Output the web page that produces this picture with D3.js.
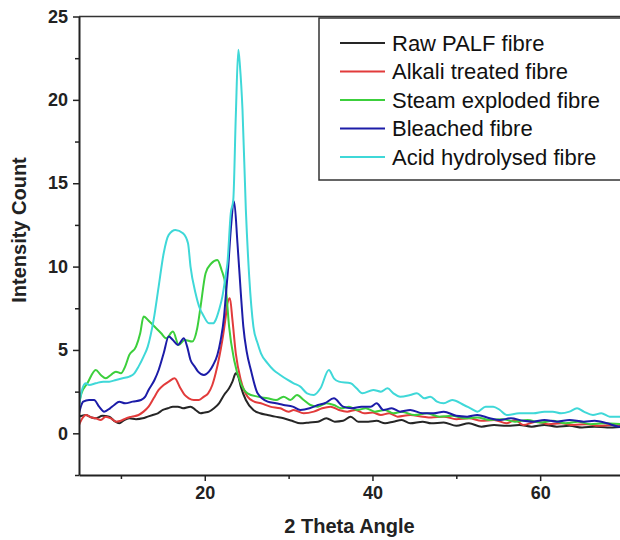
<!DOCTYPE html>
<html>
<head>
<meta charset="utf-8">
<script src="https://cdn.jsdelivr.net/npm/d3@7"></script>
<style>
  body { margin: 0; background: #fff; }
  svg { display: block; font-family: "Liberation Sans", Arial, sans-serif; }
</style>
</head>
<body>
<div id="chart"></div>
<script>
// 2 theta / intensity pairs
const rawPALF = [[5,1.0],[5.8,1.1],[6.5,0.95],[7,0.9],[7.8,1.05],[8.6,1.0],[9.2,0.75],[9.8,0.6],[10.4,0.8],[11,0.9],[11.8,0.85],[12.6,0.9],[13.2,1.0],[13.8,1.1],[14.4,1.2],[15,1.4],[15.6,1.5],[16.2,1.6],[16.8,1.6],[17.4,1.5],[18.3,1.6],[18.9,1.4],[19.5,1.2],[20,1.25],[20.5,1.3],[21.1,1.5],[21.7,1.8],[22.3,2.3],[22.9,2.7],[23.3,3.1],[23.7,3.6],[24.0,3.4],[24.3,2.8],[24.9,2.0],[25.8,1.4],[26.6,1.2],[27.5,1.1],[28.4,1.0],[29.4,0.9],[30.4,0.75],[31.4,0.6],[32.5,0.65],[33.5,0.7],[34.5,0.9],[35.5,0.7],[36.5,0.75],[37.4,1.0],[38.3,0.7],[39.5,0.7],[40.5,0.75],[41.5,0.6],[42.5,0.7],[43.5,0.8],[44.5,0.6],[46,0.7],[47,0.6],[48.5,0.65],[50,0.45],[51.5,0.6],[53,0.4],[54.5,0.5],[56,0.45],[57.5,0.5],[59,0.4],[60.5,0.5],[62,0.4],[63.5,0.45],[65,0.35],[66.5,0.4],[68,0.35],[70,0.4]];

const alkali = [[5,0.5],[5.4,0.9],[5.8,1.1],[6.5,0.95],[7,0.9],[7.6,0.8],[8.2,1.0],[8.8,0.9],[9.4,0.7],[10,0.75],[10.6,0.9],[11.3,1.0],[12.1,1.1],[12.7,1.3],[13.3,1.6],[13.9,2.1],[14.5,2.6],[15.1,2.9],[15.7,3.1],[16.4,3.3],[17.1,2.7],[17.6,2.3],[18.1,2.1],[18.7,2.0],[19.3,2.0],[19.9,2.2],[20.4,2.4],[20.9,2.9],[21.3,3.6],[21.7,4.5],[22.1,5.6],[22.5,7.0],[22.7,7.8],[23,8.1],[23.3,6.8],[23.7,4.8],[24.3,3.2],[25.1,2.2],[25.9,1.9],[26.7,1.8],[27.8,1.6],[29,1.5],[30,1.3],[30.6,1.4],[31.8,1.2],[33,1.3],[34,1.5],[35,1.6],[36,1.4],[37,1.3],[38,1.4],[39,1.2],[40,1.25],[41,1.1],[42,1.2],[43,1.0],[44.5,1.1],[46,1.0],[47,0.95],[48.5,1.0],[50,0.85],[51.5,0.9],[53,0.75],[54.5,0.8],[56,0.6],[57,0.8],[58,0.5],[59.5,0.7],[61,0.55],[62.5,0.6],[64,0.5],[65.5,0.55],[67,0.45],[68.5,0.5],[70,0.45]];

const steam = [[5,1.8],[5.3,2.4],[6,3.0],[7,3.8],[7.6,3.5],[8.2,3.3],[8.8,3.5],[9.4,3.7],[10,3.6],[10.5,4.0],[11,4.7],[11.8,5.2],[12.3,6.0],[12.7,7.0],[13.4,6.7],[14.2,6.3],[14.8,6.0],[15.4,5.7],[16.2,6.1],[16.9,5.3],[17.6,5.6],[18.5,5.5],[19.1,6.3],[19.5,7.6],[20.1,9.6],[20.8,10.2],[21.5,10.4],[22.0,9.8],[22.5,8.8],[22.9,6.4],[23.5,4.4],[24.3,3.0],[25.1,2.4],[26.3,2.2],[27.5,2.1],[28.5,2.0],[29.4,2.2],[30.2,2.0],[31,2.3],[31.8,2.0],[32.6,1.7],[33.5,1.6],[34.5,1.8],[35.4,1.7],[36.3,1.5],[37.2,1.6],[38.2,1.4],[39.2,1.5],[40.3,1.3],[41.5,1.4],[42.5,1.2],[43.5,1.3],[45,1.1],[46.5,1.2],[48,1.0],[49.5,1.05],[51,0.9],[52.5,0.95],[54,0.8],[55.5,0.85],[57,0.7],[58.5,0.8],[60,0.65],[61.5,0.75],[63,0.6],[64.5,0.7],[66,0.55],[67.5,0.6],[70,0.55]];

const bleached = [[5,1.2],[5.5,1.9],[6.2,2.0],[6.8,2.0],[7.4,1.6],[8,1.3],[8.7,1.5],[9.2,1.7],[9.8,1.9],[10.5,1.8],[11.4,1.9],[12.4,2.0],[12.9,2.2],[13.3,2.6],[14,3.2],[14.5,3.8],[15.1,4.8],[15.7,5.8],[16.2,5.6],[16.8,5.3],[17.5,5.7],[17.9,5.2],[18.3,4.4],[18.8,4.0],[19.2,3.7],[19.9,3.5],[20.5,3.7],[21,4.1],[21.5,4.7],[21.9,5.6],[22.3,7.0],[22.5,8.2],[22.8,10.0],[23.1,12.2],[23.5,13.9],[23.9,11.4],[24.3,8.4],[24.6,6.4],[25.0,4.9],[25.5,3.8],[26.3,2.4],[27.5,1.9],[28.5,1.8],[29.4,1.7],[30.5,1.6],[31.4,1.4],[32.5,1.5],[33.5,1.7],[34.3,1.8],[35.4,2.1],[36.5,1.6],[37.5,1.5],[38.7,1.6],[39.8,1.6],[40.5,1.8],[41.3,1.4],[42.3,1.5],[43.3,1.3],[44.5,1.4],[46,1.2],[47.3,1.2],[48.5,1.3],[50,1.05],[51.3,1.0],[52.5,1.1],[54,0.9],[55.2,0.8],[56.5,0.9],[58,0.75],[59.2,0.7],[60.5,0.8],[62,0.7],[63.5,0.8],[65.2,0.7],[66.5,0.75],[68,0.6],[69.4,0.4],[70,0.5]];

const acid = [[5,1.6],[5.3,2.5],[5.8,3.0],[6.2,2.9],[7,3.0],[7.9,3.1],[8.6,3.1],[9.4,3.2],[10.2,3.3],[11,3.4],[11.6,3.6],[12.1,4.0],[12.7,4.6],[13.2,5.2],[13.9,6.8],[14.5,8.8],[15.1,10.8],[15.7,11.9],[16.5,12.2],[17.4,12.0],[18,11.4],[18.3,10.0],[18.9,8.4],[19.4,7.5],[19.8,7.1],[20.5,6.6],[21,6.6],[21.3,6.8],[21.7,7.4],[22.1,8.2],[22.5,9.5],[22.7,10.2],[23.1,13.2],[23.4,14.0],[23.7,19],[24.0,23.0],[24.2,22.0],[24.5,19.4],[24.9,13.4],[25.3,9.4],[25.8,6.4],[26.3,5.4],[26.7,4.8],[27.5,4.2],[28.2,3.8],[29,3.5],[29.9,3.2],[30.6,3.0],[31.4,2.8],[32.2,2.4],[33,2.3],[33.8,2.7],[34.8,3.8],[35.4,3.3],[36,3.1],[37.4,3.0],[38.1,2.7],[38.8,2.4],[40.1,2.6],[41,2.5],[41.8,2.7],[42.5,2.4],[43.3,2.2],[44.5,2.3],[45.3,2.4],[46.2,2.1],[46.9,2.2],[47.7,1.9],[48.5,1.8],[49.5,2.0],[50.9,1.7],[51.7,1.5],[52.5,1.3],[53.5,1.6],[54.4,1.6],[55.2,1.4],[56,1.1],[57.5,1.2],[59.2,1.2],[60.5,1.3],[61.5,1.3],[62.5,1.2],[63.5,1.3],[64.4,1.5],[65.2,1.3],[66.3,1.1],[67.3,1.2],[68.3,1.0],[70,1.0]];

const seriesNames = ["Raw PALF fibre", "Alkali treated fibre", "Steam exploded fibre", "Bleached fibre", "Acid hydrolysed fibre"];
const seriesColors = ["#262626", "#e23b3b", "#3ccf3c", "#1c1ca8", "#3fd8d8"];
const seriesData = [rawPALF, alkali, steam, bleached, acid];

const xMajor = [20, 40, 60];
const xMinor = [10, 30, 50, 70];
const yMajor = [0, 5, 10, 15, 20, 25];
const yMinor = [-2.5, 2.5, 7.5, 12.5, 17.5, 22.5];

var W = 620, H = 540;
var plotLeft = 79, plotRight = 624, plotTop = 16.5, plotBottom = 475;

var svg = d3.select("#chart")
    .append("svg")
    .attr("width", W)
    .attr("height", H);

var x = d3.scaleLinear().domain([5, 70]).range([plotLeft, plotRight]);
var y = d3.scaleLinear().domain([-2.5, 25]).range([plotBottom, plotTop]);

svg.append("clipPath").attr("id", "clip")
    .append("rect")
    .attr("x", plotLeft).attr("y", plotTop)
    .attr("width", plotRight - plotLeft).attr("height", plotBottom - plotTop);

// lines
var line = d3.line()
    .x(d => x(d[0]))
    .y(d => y(d[1]))
    .curve(d3.curveMonotoneX);

var plot = svg.append("g").attr("clip-path", "url(#clip)");
seriesData.forEach((s, i) => {
    plot.append("path")
        .datum(s)
        .attr("fill", "none")
        .attr("stroke", seriesColors[i])
        .attr("stroke-width", 2)
        .attr("stroke-linejoin", "round")
        .attr("d", line);
});

// frame top
svg.append("line")
    .attr("x1", plotLeft).attr("x2", plotRight)
    .attr("y1", plotTop).attr("y2", plotTop)
    .attr("stroke", "#333").attr("stroke-width", 1.3);

// X axis
svg.append("g")
    .attr("transform", "translate(0," + plotBottom + ")")
    .call(d3.axisBottom(x).tickValues(xMinor).tickSize(4).tickFormat(""))
    .call(g => g.select(".domain").remove())
    .selectAll("line").attr("stroke", "#222").attr("stroke-width", 1.5);

var gx = svg.append("g")
    .attr("transform", "translate(0," + plotBottom + ")")
    .call(d3.axisBottom(x).tickValues(xMajor).tickSize(6).tickSizeOuter(0).tickPadding(5));
gx.select(".domain").attr("stroke", "#222").attr("stroke-width", 2);
gx.selectAll("line").attr("stroke", "#222").attr("stroke-width", 1.5);
gx.selectAll("text")
    .style("font-size", "18px")
    .style("font-weight", "bold")
    .attr("fill", "#222");

svg.append("text")
    .attr("x", (plotLeft + 620) / 2)
    .attr("y", 533)
    .attr("text-anchor", "middle")
    .style("font-size", "20px")
    .style("font-weight", "bold")
    .attr("fill", "#222")
    .text("2 Theta Angle");

// Y axis
svg.append("g")
    .attr("transform", "translate(" + plotLeft + ",0)")
    .call(d3.axisLeft(y).tickValues(yMinor).tickSize(4).tickFormat(""))
    .call(g => g.select(".domain").remove())
    .selectAll("line").attr("stroke", "#222").attr("stroke-width", 1.5);

var gy = svg.append("g")
    .attr("transform", "translate(" + plotLeft + ",0)")
    .call(d3.axisLeft(y).tickValues(yMajor).tickSize(6).tickSizeOuter(0).tickPadding(5));
gy.select(".domain").attr("stroke", "#222").attr("stroke-width", 2);
gy.selectAll("line").attr("stroke", "#222").attr("stroke-width", 1.5);
gy.selectAll("text")
    .style("font-size", "18px")
    .style("font-weight", "bold")
    .attr("fill", "#222");

svg.append("text")
    .attr("transform", "rotate(-90)")
    .attr("x", -230)
    .attr("y", 26)
    .attr("text-anchor", "middle")
    .style("font-size", "20px")
    .style("font-weight", "bold")
    .attr("fill", "#222")
    .text("Intensity Count");

// legend
var legend = svg.append("g");
legend.append("rect")
    .attr("x", 319).attr("y", 18)
    .attr("width", 320).attr("height", 162)
    .attr("fill", "#fff")
    .attr("stroke", "#333")
    .attr("stroke-width", 1.5);

var rows = legend.selectAll("g.row")
    .data(seriesNames)
    .enter().append("g")
    .attr("class", "row")
    .attr("transform", (d, i) => "translate(0," + (43 + i * 28.5) + ")");

rows.append("line")
    .attr("x1", 340).attr("x2", 385)
    .attr("stroke", (d, i) => seriesColors[i])
    .attr("stroke-width", 2);

rows.append("text")
    .attr("x", 392)
    .attr("dy", "0.35em")
    .style("font-size", "22px")
    .attr("fill", "#111")
    .text(d => d);
</script>
</body>
</html>
